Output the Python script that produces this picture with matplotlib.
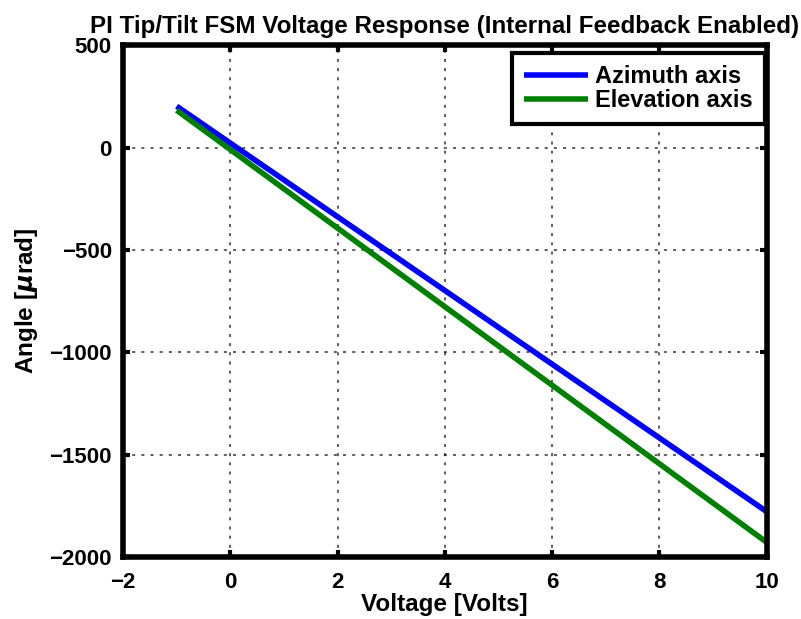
import matplotlib
matplotlib.use('Agg')
import matplotlib.pyplot as plt

# End points of the measured voltage sweep
voltage = [-1, 10]
azimuth_angle = [202, -1778]
elevation_angle = [182, -1928]

x_ticks = [-2, 0, 2, 4, 6, 8, 10]
y_ticks = [-2000, -1500, -1000, -500, 0, 500]

plt.rcParams['font.family'] = ['Liberation Sans', 'DejaVu Sans']
plt.rcParams['font.weight'] = 'bold'
plt.rcParams['mathtext.default'] = 'it'

fig = plt.figure(figsize=(8.01, 6.19), dpi=100)
ax = fig.add_axes([0.1536, 0.1002, 0.8034, 0.8268])

ax.plot(voltage, azimuth_angle, color='#0000ff', linewidth=4, label='Azimuth axis',
        solid_capstyle='butt')
ax.plot(voltage, elevation_angle, color='#008000', linewidth=4, label='Elevation axis',
        solid_capstyle='butt')

ax.set_xlim(-2, 10)
ax.set_ylim(-2000, 500)
ax.set_xticks(x_ticks)
ax.set_yticks(y_ticks)
ax.set_xticklabels([f'\u2212{-t}' if t < 0 else str(t) for t in x_ticks],
                   fontsize=16, fontweight='bold')
ax.set_yticklabels([f'\u2212{-t}' if t < 0 else str(t) for t in y_ticks],
                   fontsize=16, fontweight='bold')
ax.tick_params(axis='x', direction='in', length=5, width=3, pad=11, top=True)
ax.tick_params(axis='y', direction='in', length=5, width=3, pad=8, right=True)

ax.grid(True, color='black', linewidth=1.1, dashes=(2, 4), alpha=0.8)
for side in ax.spines.values():
    side.set_linewidth(4)

ax.set_xlabel('Voltage [Volts]', fontsize=17.5, fontweight='bold', labelpad=0)
ax.set_ylabel('Angle [$\\mu$rad]', fontsize=17.5, fontweight='bold', labelpad=7)
ax.set_title('PI Tip/Tilt FSM Voltage Response (Internal Feedback Enabled)',
             fontsize=17.4, fontweight='bold', pad=9)

leg = ax.legend(loc='upper right', bbox_to_anchor=(1.0 - 2 / 644, 1 - 8 / 512),
                fontsize=17, fancybox=False, framealpha=1, borderaxespad=0,
                handlelength=2.7, handletextpad=0.3, borderpad=0.5,
                labelspacing=0.05)
leg.get_frame().set_edgecolor('black')
leg.get_frame().set_linewidth(3)
for t in leg.get_texts():
    t.set_fontweight('bold')

fig.savefig('out.png', dpi=100)
